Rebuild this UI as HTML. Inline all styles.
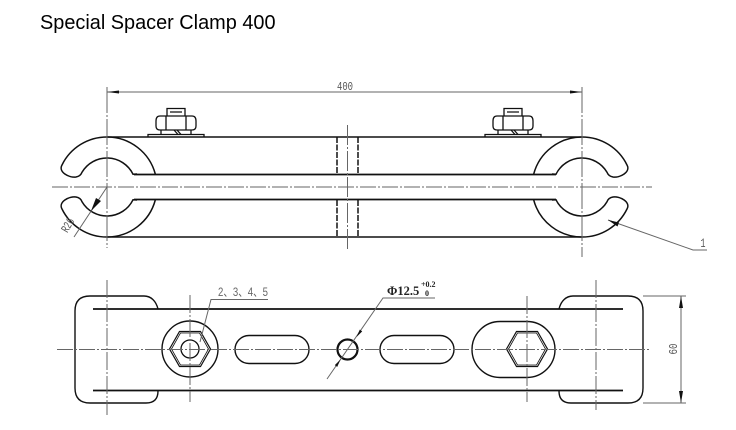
<!DOCTYPE html>
<html><head><meta charset="utf-8"><style>
html,body{margin:0;padding:0;background:#fff}
svg{display:block}
.d{filter:blur(.3px)}
.s{font-family:"Liberation Sans","Noto Sans CJK SC",sans-serif}
.m{font-family:"Liberation Mono",monospace}
.r{font-family:"Liberation Serif",serif;font-weight:bold}
</style></head><body>
<svg width="736" height="430" viewBox="0 0 736 430" xmlns="http://www.w3.org/2000/svg">
<rect width="736" height="430" fill="#fff"/>
<text class="s" x="40" y="29" font-size="19.900" fill="#000">Special Spacer Clamp 400</text>
<defs>
<g id="hook" fill="none" stroke="#111" stroke-width="1.500">
<path d="M107 137A50 50 0 0 0 62 165C58 172 69 178 76 177C79 176.500 81 175 82 172.300A29 29 0 0 1 133 174.200L137 174"/>
<path d="M107 137A50 50 0 0 1 155.300 174"/>
</g>
<g id="nut" fill="none" stroke="#111" stroke-width="1.300">
<path d="M-28 137V134.500H28V137"/>
<path d="M-20 121Q-20 116 -16 116H16Q20 116 20 121V126Q20 130 16 130H-16Q-20 130 -20 126Z"/>
<path d="M-10 116V130M10 116V130M-9 116V108.500H9V116M-6 112H6"/>
<path d="M-15 130V134.500M15 130V134.500M-2 130L2 134.500M1 130L5 134.500"/>
</g>
<g id="hex" fill="none" stroke="#111" stroke-width="1.200">
<path d="M-20.500 0L-10.500 -17.500H10.500L20.500 0L10.500 17.500H-10.500Z"/>
<path d="M-18.500 0L-9.500 -16H9.500L18.500 0L9.500 16H-9.500Z" stroke-width=".8"/>
</g>
</defs>

<g class="d">
<!-- top view -->
<use href="#hook"/>
<use href="#hook" transform="matrix(1 0 0 -1 0 374)"/>
<use href="#hook" transform="matrix(-1 0 0 1 689 0)"/>
<use href="#hook" transform="matrix(-1 0 0 -1 689 374)"/>
<g stroke="#111" fill="none">
<path d="M107 137H582M107 237H582" stroke-width="1.500"/>
<path d="M134 174.500H556M134 199.500H556" stroke-width="1.800"/>
<path d="M337 137V174M358 137V174M337 200V237M358 200V237" stroke-width="1.500" stroke-dasharray="6 1.500"/>
</g>
<use href="#nut" transform="translate(176 0)"/>
<use href="#nut" transform="translate(513 0)"/>
<g stroke="#666" stroke-width="1" fill="none">
<path d="M52 187H652" stroke-dasharray="16 2 2 2"/>
<path d="M107 87V248M582 87V257" stroke-dasharray="26 2 2 2"/>
<path d="M347.500 125V250" stroke-dasharray="20 2 2 2"/>
<path d="M107 92H582"/>
<path d="M107 187L74 237"/>
<path d="M608 220L693 250H707"/>
</g>
<path d="M107 92L119 90.500V93.500ZM582 92L570 90.500V93.500Z" fill="#111"/>
<path d="M91 211L96 198L101 201Z" fill="#111"/>
<path d="M608 220L619 222.500L617.500 226.500Z" fill="#111"/>
<text class="m" x="337" y="90" font-size="12" fill="#555" textLength="16" lengthAdjust="spacingAndGlyphs">400</text>
<text class="m" transform="translate(71 227) rotate(-60) scale(.8 1.200)" font-size="10" fill="#555" text-anchor="middle">R26</text>
<text class="m" x="703" y="247" font-size="13" fill="#555" text-anchor="middle" textLength="5" lengthAdjust="spacingAndGlyphs">1</text>

<!-- bottom view -->
<g stroke="#111" fill="none">
<path d="M93 309H623M93 390.500H623" stroke-width="1.700"/>
<path d="M158 309C156 301 151 296 144 296H90Q75 296 75 311V388Q75 403 90 403H146Q158 403 158 391" stroke-width="1.400"/>
<path d="M559 309C561 301 566 296 573 296H628Q643 296 643 311V388Q643 403 628 403H571Q559 403 559 391" stroke-width="1.400"/>
<circle cx="190" cy="349" r="28" stroke-width="1.400"/>
<circle cx="190" cy="349" r="9" stroke-width="1.300"/>
<rect x="235" y="335.500" width="74" height="28" rx="14" stroke-width="1.400"/>
<rect x="380" y="335.500" width="74" height="28" rx="14" stroke-width="1.400"/>
<rect x="472" y="321.500" width="83" height="56" rx="28" stroke-width="1.400"/>
<circle cx="347.500" cy="349.500" r="10" stroke-width="2.200"/>
</g>
<use href="#hex" transform="translate(190 349)"/>
<use href="#hex" transform="translate(527 349)"/>
<g stroke="#666" stroke-width="1" fill="none">
<path d="M57 349.500H650" stroke-dasharray="16 2 2 2"/>
<path d="M107 280V415M596 280V410" stroke-dasharray="18 2 2 2"/>
<path d="M190 295V402M527 296V402" stroke-dasharray="18 2 2 2"/>
<path d="M200 342L211 299.500H268"/>
<path d="M327 379L383 298H435"/>
<path d="M643 296H686M643 403H686M681 296V403"/>
</g>
<path d="M681 296L679 308H683ZM681 403L679 391H683Z" fill="#111"/>
<path d="M356.500 337L362.200 331.400L359.800 329.600Z" fill="#111"/>
<path d="M340.500 359.500L337.200 366.900L334.800 365.100Z" fill="#111"/>
<text class="s" x="218" y="296" font-size="12" fill="#666" textLength="50" lengthAdjust="spacingAndGlyphs">2、3、4、5</text>
<text class="r" x="387" y="295" font-size="12.500" fill="#222">Φ12.5</text>
<text class="r" x="421" y="287" font-size="8" fill="#222">+0.2</text>
<text class="r" x="425" y="296" font-size="8" fill="#222">0</text>
<text class="m" transform="translate(677 349) rotate(-90)" font-size="12" fill="#555" text-anchor="middle" textLength="11" lengthAdjust="spacingAndGlyphs">60</text>
</g>
</svg>
</body></html>
